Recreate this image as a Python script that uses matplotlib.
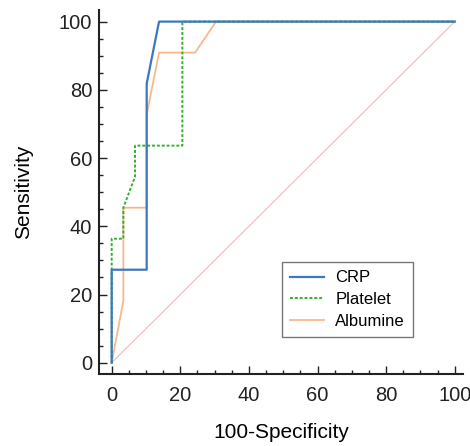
import matplotlib
matplotlib.use("Agg")
import matplotlib.pyplot as plt
from matplotlib.ticker import MultipleLocator

plt.rcParams['font.family'] = ['Liberation Sans', 'DejaVu Sans']

crp_x = [0, 0, 10.2, 10.2, 13.8, 100]
crp_y = [0, 27.27, 27.27, 81.82, 100, 100]

plt_x = [0, 0, 3.4, 3.4, 6.8, 6.8, 20.6, 20.6, 100]
plt_y = [0, 36.36, 36.36, 45.45, 54.55, 63.64, 63.64, 100, 100]

alb_x = [0, 3.4, 3.4, 10.2, 10.2, 13.8, 24.3, 30.4, 100]
alb_y = [0, 18.18, 45.45, 45.45, 72.73, 90.91, 90.91, 100, 100]

diag = [0, 100]

fig = plt.figure(figsize=(4.70, 4.46), dpi=100)
ax = fig.add_axes([99/470, 1-374/446, 364/470, 364/446])

ax.plot(diag, diag, color='#f2b8b8', lw=0.8, zorder=1)
ax.plot(alb_x, alb_y, color='#f9b88c', lw=1.3, label='Albumine', zorder=2)
ax.plot(plt_x, plt_y, color='#2fb12f', lw=1.4, ls=(0, (1.5, 1)), label='Platelet', zorder=3)
ax.plot(crp_x, crp_y, color='#3a78c0', lw=1.6, label='CRP', zorder=4)

ax.set_xlim(-3.7, 102.4)
ax.set_ylim(-3.3, 103.4)
for s in ['top', 'right']:
    ax.spines[s].set_visible(False)
for s in ['left', 'bottom']:
    ax.spines[s].set_linewidth(1.5)
    ax.spines[s].set_color('#222222')

ax.xaxis.set_major_locator(MultipleLocator(20))
ax.xaxis.set_minor_locator(MultipleLocator(5))
ax.yaxis.set_major_locator(MultipleLocator(20))
ax.yaxis.set_minor_locator(MultipleLocator(5))
ax.tick_params(which='major', direction='in', length=6, width=1, labelsize=14.5, colors='#222222')
ax.tick_params(which='minor', direction='in', length=3, width=1, colors='#222222')
ax.tick_params(axis='x', which='major', pad=8.5)
ax.tick_params(axis='y', which='major', pad=4.8)
ax.set_xlabel('100-Specificity', fontsize=15, labelpad=13)
ax.set_ylabel('Sensitivity', fontsize=15, labelpad=19)

h, l = ax.get_legend_handles_labels()
order = [2, 1, 0]
leg = ax.legend([h[i] for i in order], [l[i] for i in order],
                loc='upper left', bbox_to_anchor=(282/470, 1-262/446),
                bbox_transform=fig.transFigure, fontsize=12, frameon=True,
                fancybox=False, edgecolor='#555555', handlelength=2.0,
                borderpad=0.5, labelspacing=0.4, borderaxespad=0,
                handletextpad=0.7)
leg.get_frame().set_linewidth(1.0)

fig.savefig('out.png', dpi=100)
